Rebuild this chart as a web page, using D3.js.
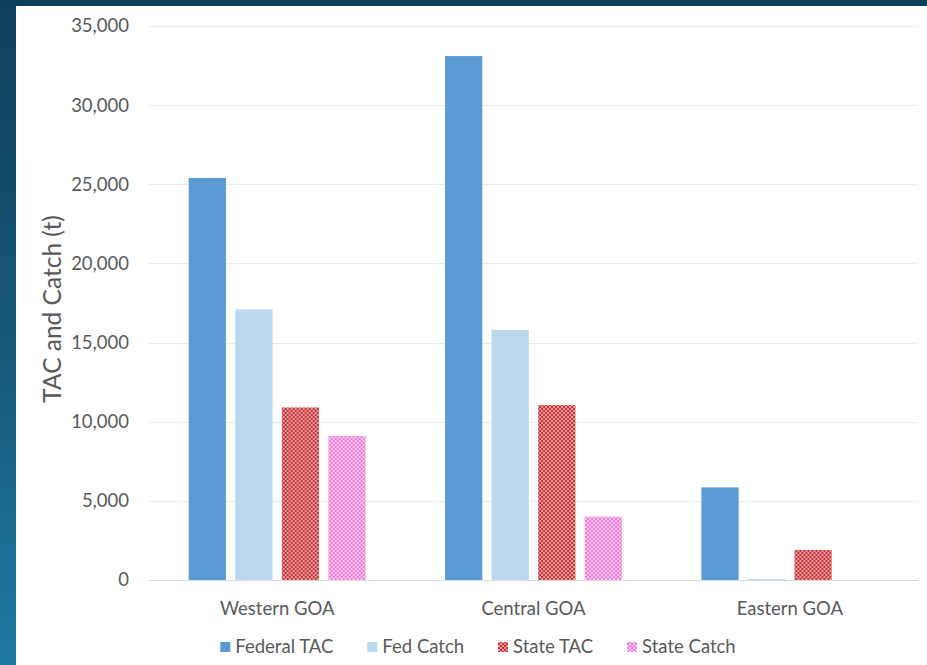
<!DOCTYPE html>
<html>
<head>
<meta charset="utf-8">
<script src="https://cdn.jsdelivr.net/npm/d3@7"></script>
<style>
  html, body { margin: 0; padding: 0; }
  body { width: 927px; height: 665px; overflow: hidden;
         background: linear-gradient(180deg, #0f3f5b 0%, #175a7c 55%, #1f7aa2 100%); }
  svg { display: block; }
</style>
</head>
<body>
<svg id="chart" width="927" height="665"></svg>
<script>
// Gulf of Alaska TAC and catch by area
const areas = ["Western GOA", "Central GOA", "Eastern GOA"];
const seriesNames = ["Federal TAC", "Fed Catch", "State TAC", "State Catch"];
const federalTAC = [25400, 33100, 5850];
const fedCatch = [17100, 15800, 60];
const stateTAC = [10900, 11050, 1900];
const stateCatch = [9100, 4000, 0];
const yTicks = [0, 5000, 10000, 15000, 20000, 25000, 30000, 35000];

const seriesValues = [federalTAC, fedCatch, stateTAC, stateCatch];

const svg = d3.select("#chart");
const font = "Lato, 'Open Sans', sans-serif";
const textColor = "#595959";

// white chart panel
svg.append("rect").attr("x", 16).attr("y", 6).attr("width", 911).attr("height", 659)
  .attr("fill", "#ffffff");

// checker fills for the state series
const defs = svg.append("defs");
function checker(id, dark, light) {
  const p = defs.append("pattern").attr("id", id).attr("patternUnits", "userSpaceOnUse")
    .attr("width", 4).attr("height", 4);
  p.append("rect").attr("width", 4).attr("height", 4).attr("fill", light);
  p.append("rect").attr("width", 2).attr("height", 2).attr("fill", dark);
  p.append("rect").attr("x", 2).attr("y", 2).attr("width", 2).attr("height", 2).attr("fill", dark);
}
checker("stateTacFill", "#c2343c", "#ee9a9a");
checker("stateCatchFill", "#f07ad6", "#fcc6ef");

const fills = ["#5b9bd5", "#bdd7ee", "url(#stateTacFill)", "url(#stateCatchFill)"];

const plot = { left: 149, right: 918, top: 26, bottom: 580 };

const y = d3.scaleLinear().domain([0, 35000]).range([plot.bottom, plot.top]);
const x0 = d3.scaleBand().domain(areas).range([plot.left, plot.right]).paddingInner(0.31).paddingOuter(0.155);
const x1 = d3.scaleBand().domain(seriesNames).range([0, x0.bandwidth()]).paddingInner(0.2);

// gridlines
svg.append("g")
  .selectAll("line").data(yTicks).join("line")
  .attr("x1", plot.left).attr("x2", plot.right)
  .attr("y1", d => Math.round(y(d)) + 0.5).attr("y2", d => Math.round(y(d)) + 0.5)
  .attr("stroke", d => d === 0 ? "#d9d9d9" : "#ebebeb").attr("stroke-width", 1);

// y axis labels
const yAxis = d3.axisLeft(y).tickValues(yTicks).tickFormat(d3.format(",")).tickSize(0).tickPadding(0);
const yg = svg.append("g").attr("transform", `translate(${plot.left - 20},0)`).call(yAxis);
yg.select(".domain").remove();
yg.selectAll("text").attr("font-family", font).attr("font-size", 18.5).attr("fill", textColor);

// bars
const groups = svg.append("g").selectAll("g").data(areas).join("g")
  .attr("transform", d => `translate(${x0(d)},0)`);
groups.selectAll("rect")
  .data((a, i) => seriesNames.map((s, j) => ({ s, j, v: seriesValues[j][i] })))
  .join("rect")
  .attr("x", d => x1(d.s))
  .attr("width", x1.bandwidth())
  .attr("y", d => y(d.v))
  .attr("height", d => y(0) - y(d.v))
  .attr("fill", d => fills[d.j]);

// category axis
const xAxis = d3.axisBottom(x0).tickSize(0).tickPadding(0);
const xg = svg.append("g").attr("transform", `translate(0,609)`).call(xAxis);
xg.select(".domain").remove();
xg.selectAll("text").attr("font-family", font).attr("font-size", 18.5).attr("fill", textColor)
  .attr("dy", "0.35em");

// y axis title
svg.append("text")
  .attr("transform", `translate(52,309) rotate(-90)`)
  .attr("text-anchor", "middle")
  .attr("dy", "0.35em")
  .attr("font-family", font).attr("font-size", 24.5).attr("fill", textColor)
  .text("TAC and Catch (t)");

// legend
const legend = svg.append("g").attr("transform", "translate(0,647)");
const items = legend.selectAll("g").data(seriesNames).join("g");
items.append("rect").attr("width", 10).attr("height", 10).attr("y", -5)
  .attr("fill", (d, i) => fills[i]);
items.append("text").attr("x", 15).attr("dy", "0.35em")
  .attr("font-family", font).attr("font-size", 18.5).attr("fill", textColor)
  .text(d => d);
const gap = 34;
let cx = 0;
const offsets = [];
items.each(function () {
  const w = this.getBBox().width;
  offsets.push(cx);
  cx += w + gap;
});
const total = cx - gap;
const startX = 478 - total / 2;
items.attr("transform", (d, i) => `translate(${startX + offsets[i]},0)`);
</script>
</body>
</html>
